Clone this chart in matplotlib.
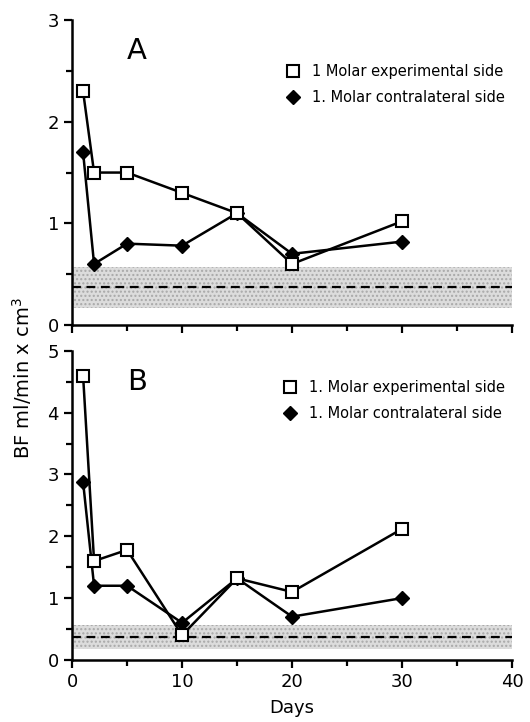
import matplotlib
matplotlib.use("Agg")
import matplotlib.pyplot as plt
from matplotlib.ticker import MultipleLocator

# ── data ─────────────────────────────────────────────────────────────
DAYS = [1, 2, 5, 10, 15, 20, 30]

A_EXP = [2.3, 1.5, 1.5, 1.3, 1.1, 0.6, 1.02]
A_CON = [1.7, 0.6, 0.8, 0.78, 1.1, 0.7, 0.82]

B_EXP = [4.6, 1.6, 1.78, 0.4, 1.32, 1.1, 2.12]
B_CON = [2.88, 1.2, 1.2, 0.6, 1.32, 0.7, 1.0]

# normal range (shaded) and mean (dashed)
NORM_LO, NORM_HI, NORM_MEAN = 0.17, 0.57, 0.37

A_LABELS = ["1 Molar experimental side", "1. Molar contralateral side"]
B_LABELS = ["1. Molar experimental side", "1. Molar contralateral side"]

plt.rcParams["font.family"] = ["DejaVu Sans"]

fig = plt.figure(figsize=(5.30, 7.22), dpi=100)
ax_a = fig.add_axes([0.136, 0.550, 0.830, 0.422])
ax_b = fig.add_axes([0.136, 0.086, 0.830, 0.428])


def draw_panel(ax, exp, con, labels, ymax, letter, xlabels, leg_y):
    ax.fill_between([0, 40], NORM_LO, NORM_HI, facecolor="#dcdcdc",
                    edgecolor="#a8a8a8", hatch="....", linewidth=0, zorder=0)
    ax.plot([0, 40], [NORM_MEAN, NORM_MEAN], color="black", lw=1.6,
            dashes=(4, 2.5), zorder=1)

    ax.plot(DAYS, exp, color="black", lw=1.8, marker="s", ms=8,
            mfc="white", mec="black", mew=1.5, label=labels[0], zorder=3)
    ax.plot(DAYS, con, color="black", lw=1.8, marker="D", ms=7,
            mfc="black", mec="black", label=labels[1], zorder=2)

    ax.set_xlim(0, 40)
    ax.set_ylim(0, ymax)
    ax.xaxis.set_major_locator(MultipleLocator(10))
    ax.xaxis.set_minor_locator(MultipleLocator(5))
    ax.yaxis.set_major_locator(MultipleLocator(1))
    ax.yaxis.set_minor_locator(MultipleLocator(0.5))
    for s in ("top", "right"):
        ax.spines[s].set_visible(False)
    for s in ("left", "bottom"):
        ax.spines[s].set_linewidth(1.8)
    ax.tick_params(which="major", length=6, width=1.6, labelsize=13)
    ax.tick_params(which="minor", length=4, width=1.6)
    if not xlabels:
        ax.tick_params(axis="x", labelbottom=False)

    ax.text(0.125, 0.90, letter, transform=ax.transAxes, fontsize=21,
            ha="left", va="center")
    ax.legend(loc="upper right", bbox_to_anchor=(1.0, leg_y), frameon=False,
              fontsize=10.5, handlelength=0.6, handletextpad=1.0,
              labelspacing=0.75, borderaxespad=0.1)


draw_panel(ax_a, A_EXP, A_CON, A_LABELS, 3, "A", False, 0.88)
draw_panel(ax_b, B_EXP, B_CON, B_LABELS, 5, "B", True, 0.93)

ax_b.set_xlabel("Days", fontsize=13, labelpad=6)
fig.text(0.042, 0.477, "BF ml/min x cm$^3$", rotation=90, fontsize=14,
         ha="center", va="center")

fig.savefig("out.png", dpi=100, facecolor="white")
